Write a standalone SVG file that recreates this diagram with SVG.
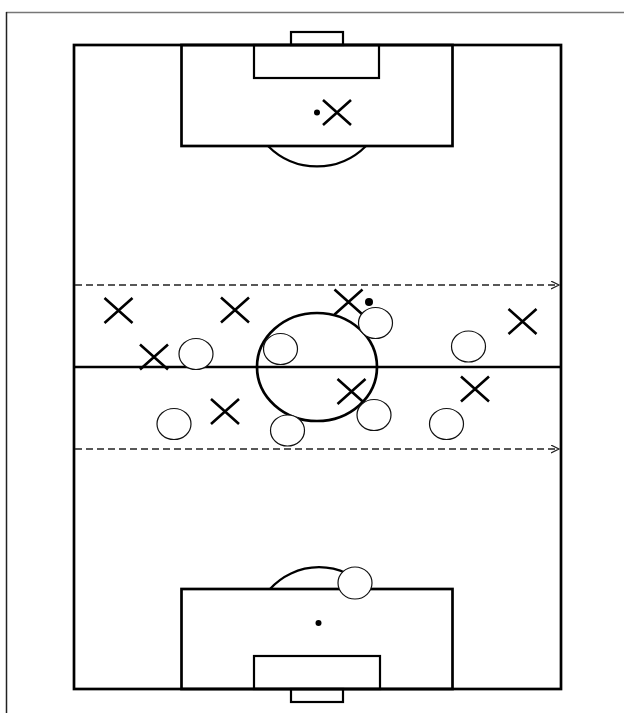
<svg xmlns="http://www.w3.org/2000/svg" xmlns:xlink="http://www.w3.org/1999/xlink" width="624" height="713" viewBox="0 0 624 713">
  <style>
    .line { fill: none; stroke: #000; stroke-width: 2.7; }
    .thin { fill: none; stroke: #000; stroke-width: 2.2; }
    .dash { fill: none; stroke: #222; stroke-width: 1.3; stroke-dasharray: 7 4; }
    .opp { fill: #fff; stroke: #111; stroke-width: 1.2; }
    .cross { fill: none; stroke: #000; stroke-width: 2.6; }
    .ball { fill: #000; }
  </style>
  <defs>
    <marker id="arrow" markerWidth="10" markerHeight="10" refX="8" refY="4" orient="auto" markerUnits="userSpaceOnUse">
      <path d="M0,0 L8,4 L0,8" fill="none" stroke="#222" stroke-width="1.2"/>
    </marker>
    <path id="x" class="cross" d="M-14,-12.5 L14,12.5 M14,-12.5 L-14,12.5"/>
  </defs>
  <rect width="624" height="713" fill="#fff"/>
  <!-- frame -->
  <g id="frame">
    <line x1="6" y1="12.5" x2="624" y2="12.5" stroke="#777" stroke-width="1.3"/>
    <line x1="6.5" y1="12" x2="6.5" y2="713" stroke="#222" stroke-width="1.5"/>
  </g>
  <!-- pitch -->
  <g id="pitch">
    <rect class="line" x="74" y="45" width="487" height="644"/>
    <line class="line" x1="74" y1="367" x2="561" y2="367"/>
    <ellipse class="line" cx="317" cy="367" rx="60" ry="54"/>
    <!-- top end -->
    <rect class="thin" x="291" y="32" width="52" height="13"/>
    <rect class="thin" x="254" y="45" width="125" height="33"/>
    <rect class="line" x="181.5" y="45" width="271" height="101"/>
    <path class="thin" d="M268,146 A69,69 0 0 0 366,146"/>
    <circle class="ball" cx="317" cy="112.5" r="3"/>
    <!-- bottom end -->
    <rect class="thin" x="291" y="689" width="52" height="13"/>
    <rect class="thin" x="254" y="656" width="126" height="33"/>
    <rect class="line" x="181.5" y="589" width="271" height="100"/>
    <path class="thin" d="M270,589 A66,66 0 0 1 368,589"/>
    <circle class="ball" cx="318.5" cy="623" r="3"/>
  </g>
  <!-- connectors -->
  <g id="connectors">
    <line class="dash" x1="75" y1="285" x2="559" y2="285" marker-end="url(#arrow)"/>
    <line class="dash" x1="75" y1="449" x2="559" y2="449" marker-end="url(#arrow)"/>
  </g>
  <!-- attackers (X) -->
  <g id="x-keeper"><use xlink:href="#x" x="337" y="112.5"/></g>
  <g id="x1"><use xlink:href="#x" x="118.5" y="310.5"/></g>
  <g id="x2"><use xlink:href="#x" x="235" y="310"/></g>
  <g id="x3"><use xlink:href="#x" x="348.5" y="302"/></g>
  <g id="x4"><use xlink:href="#x" x="522.5" y="321.5"/></g>
  <g id="x5"><use xlink:href="#x" x="154" y="357"/></g>
  <g id="x6"><use xlink:href="#x" x="225" y="411.5"/></g>
  <g id="x7"><use xlink:href="#x" x="351.5" y="391.5"/></g>
  <g id="x8"><use xlink:href="#x" x="475" y="389"/></g>
  <!-- ball -->
  <g id="ball"><circle class="ball" cx="369" cy="302" r="4"/></g>
  <!-- defenders (O) -->
  <g id="o1"><ellipse class="opp" cx="196" cy="354" rx="17" ry="15.5"/></g>
  <g id="o2"><ellipse class="opp" cx="280.5" cy="349" rx="17" ry="15.5"/></g>
  <g id="o3"><ellipse class="opp" cx="375.5" cy="323" rx="17" ry="15.5"/></g>
  <g id="o4"><ellipse class="opp" cx="468.5" cy="346.5" rx="17" ry="15.5"/></g>
  <g id="o5"><ellipse class="opp" cx="174" cy="424" rx="17" ry="15.5"/></g>
  <g id="o6"><ellipse class="opp" cx="287.5" cy="430.5" rx="17" ry="15.5"/></g>
  <g id="o7"><ellipse class="opp" cx="374" cy="415" rx="17" ry="15.5"/></g>
  <g id="o8"><ellipse class="opp" cx="446.5" cy="424" rx="17" ry="15.5"/></g>
  <g id="o9"><ellipse class="opp" cx="355" cy="583" rx="17" ry="16"/></g>
</svg>
